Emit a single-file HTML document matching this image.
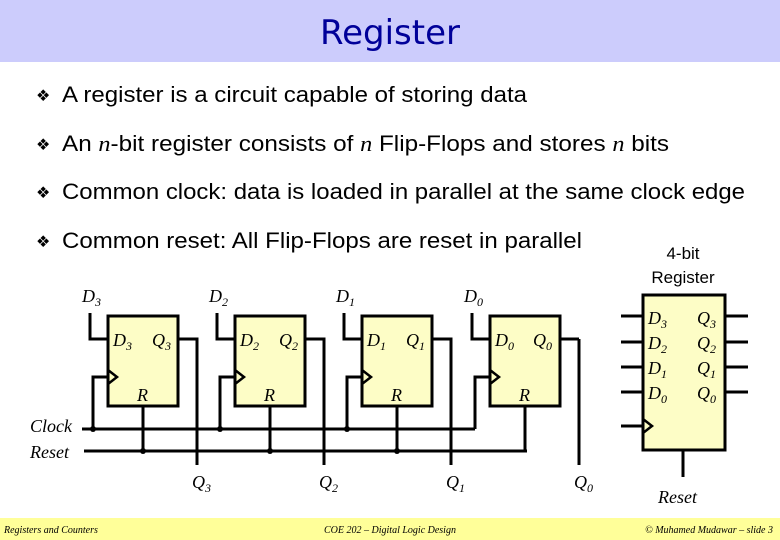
<!DOCTYPE html>
<html><head><meta charset="utf-8"><style>
body{margin:0;width:780px;height:540px;overflow:hidden;background:#fff}
svg{display:block}
.b{font-family:"Liberation Sans",sans-serif;font-size:22px;fill:#000}
.bu{font-family:"DejaVu Sans",sans-serif;font-size:16px;fill:#000}
.m{font-family:"Liberation Serif",serif;font-style:italic;font-size:18px;fill:#000}
.s{font-size:12px}
.f{font-family:"Liberation Serif",serif;font-style:italic;font-size:10px;fill:#000}
</style></head><body>
<svg width="780" height="540" viewBox="0 0 780 540" xmlns="http://www.w3.org/2000/svg">
<rect x="0" y="0" width="780" height="62" fill="#ccccfc"/>
<text x="390" y="44" text-anchor="middle" font-family="'Comic Sans MS','DejaVu Sans',sans-serif" font-size="34" fill="#000099">Register</text>
<g class="bu">
<text x="36" y="101">❖</text><text x="36" y="150">❖</text><text x="36" y="198">❖</text><text x="36" y="247">❖</text>
</g>
<g class="b">
<text x="62" y="102" textLength="465" lengthAdjust="spacingAndGlyphs">A register is a circuit capable of storing data</text>
<text x="62" y="151" textLength="607" lengthAdjust="spacingAndGlyphs">An <tspan font-family="Liberation Serif" font-style="italic">n</tspan>-bit register consists of <tspan font-family="Liberation Serif" font-style="italic">n</tspan> Flip-Flops and stores <tspan font-family="Liberation Serif" font-style="italic">n</tspan> bits</text>
<text x="62" y="199" textLength="683" lengthAdjust="spacingAndGlyphs">Common clock: data is loaded in parallel at the same clock edge</text>
<text x="62" y="248" textLength="520" lengthAdjust="spacingAndGlyphs">Common reset: All Flip-Flops are reset in parallel</text>
</g>
<text x="683" y="259" text-anchor="middle" font-family="Liberation Sans" font-size="17">4-bit</text>
<text x="683" y="283" text-anchor="middle" font-family="Liberation Sans" font-size="17">Register</text>

<g stroke="#000" stroke-width="3" fill="none">
<line x1="82" y1="429" x2="475" y2="429"/>
<line x1="84" y1="451" x2="527" y2="451"/>
<line x1="579" y1="339" x2="579" y2="465"/>
<polyline points="90,313 90,339 108,339"/><polyline points="178,339 197,339 197,465"/><polyline points="93,429 93,377 108,377"/><line x1="143" y1="406" x2="143" y2="451"/>
<polyline points="217,313 217,339 235,339"/><polyline points="305,339 324,339 324,465"/><polyline points="220,429 220,377 235,377"/><line x1="270" y1="406" x2="270" y2="451"/>
<polyline points="344,313 344,339 362,339"/><polyline points="432,339 451,339 451,465"/><polyline points="347,429 347,377 362,377"/><line x1="397" y1="406" x2="397" y2="451"/>
<polyline points="472,313 472,339 490,339"/><polyline points="560,339 579,339"/><polyline points="475,429 475,377 490,377"/><line x1="525" y1="406" x2="525" y2="451"/>
</g>
<g stroke="#000" stroke-width="3" fill="#fdfdc6">
<rect x="108" y="316" width="70" height="90"/><rect x="235" y="316" width="70" height="90"/><rect x="362" y="316" width="70" height="90"/><rect x="490" y="316" width="70" height="90"/>
</g>
<g stroke="#000" stroke-width="2.5" fill="none">
<polyline points="108,370 117,377 108,384"/><polyline points="235,370 244,377 235,384"/><polyline points="362,370 371,377 362,384"/><polyline points="490,370 499,377 490,384"/>
</g>
<g fill="#000">
<circle cx="93" cy="429" r="3"/><circle cx="143" cy="451" r="3"/><circle cx="220" cy="429" r="3"/><circle cx="270" cy="451" r="3"/><circle cx="347" cy="429" r="3"/><circle cx="397" cy="451" r="3"/>
</g>
<g class="m">
<text x="82" y="302">D<tspan class="s" dy="4">3</tspan></text>
<text x="209" y="302">D<tspan class="s" dy="4">2</tspan></text>
<text x="336" y="302">D<tspan class="s" dy="4">1</tspan></text>
<text x="464" y="302">D<tspan class="s" dy="4">0</tspan></text>
<text x="113" y="346">D<tspan class="s" dy="4">3</tspan></text><text x="152" y="346">Q<tspan class="s" dy="4">3</tspan></text><text x="137" y="401">R</text>
<text x="240" y="346">D<tspan class="s" dy="4">2</tspan></text><text x="279" y="346">Q<tspan class="s" dy="4">2</tspan></text><text x="264" y="401">R</text>
<text x="367" y="346">D<tspan class="s" dy="4">1</tspan></text><text x="406" y="346">Q<tspan class="s" dy="4">1</tspan></text><text x="391" y="401">R</text>
<text x="495" y="346">D<tspan class="s" dy="4">0</tspan></text><text x="533" y="346">Q<tspan class="s" dy="4">0</tspan></text><text x="519" y="401">R</text>
<text x="192" y="488">Q<tspan class="s" dy="4">3</tspan></text>
<text x="319" y="488">Q<tspan class="s" dy="4">2</tspan></text>
<text x="446" y="488">Q<tspan class="s" dy="4">1</tspan></text>
<text x="574" y="488">Q<tspan class="s" dy="4">0</tspan></text>
<text x="30" y="432">Clock</text>
<text x="30" y="458">Reset</text>
</g>

<g stroke="#000" stroke-width="3" fill="none">
<line x1="621" y1="316" x2="643" y2="316"/><line x1="621" y1="342" x2="643" y2="342"/><line x1="621" y1="367" x2="643" y2="367"/><line x1="621" y1="392" x2="643" y2="392"/><line x1="621" y1="426" x2="643" y2="426"/>
<line x1="725" y1="316" x2="748" y2="316"/><line x1="725" y1="342" x2="748" y2="342"/><line x1="725" y1="367" x2="748" y2="367"/><line x1="725" y1="392" x2="748" y2="392"/>
<line x1="683" y1="450" x2="683" y2="477"/>
</g>
<rect x="643" y="295" width="82" height="155" fill="#fdfdc6" stroke="#000" stroke-width="3"/>
<polyline points="643,419 652,426 643,433" stroke="#000" stroke-width="2.5" fill="none"/>
<g class="m">
<text x="648" y="324">D<tspan class="s" dy="4">3</tspan></text><text x="697" y="324">Q<tspan class="s" dy="4">3</tspan></text>
<text x="648" y="349">D<tspan class="s" dy="4">2</tspan></text><text x="697" y="349">Q<tspan class="s" dy="4">2</tspan></text>
<text x="648" y="374">D<tspan class="s" dy="4">1</tspan></text><text x="697" y="374">Q<tspan class="s" dy="4">1</tspan></text>
<text x="648" y="399">D<tspan class="s" dy="4">0</tspan></text><text x="697" y="399">Q<tspan class="s" dy="4">0</tspan></text>
<text x="658" y="503">Reset</text>
</g>

<rect x="0" y="518" width="780" height="22" fill="#ffff99"/>
<text x="4" y="533" class="f">Registers and Counters</text>
<text x="390" y="533" class="f" text-anchor="middle">COE 202 – Digital Logic Design</text>
<text x="773" y="533" class="f" text-anchor="end">© Muhamed Mudawar – slide 3</text>
</svg>
</body></html>
